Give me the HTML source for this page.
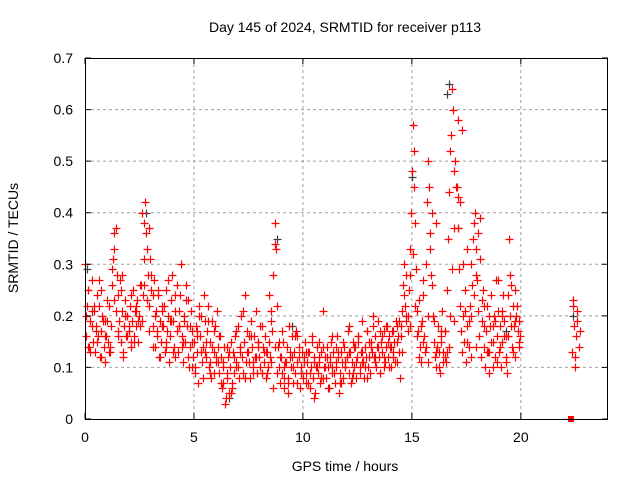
<!DOCTYPE html>
<html><head><meta charset="utf-8">
<style>
html,body{margin:0;padding:0;background:#fff;}
svg{display:block;font-family:"Liberation Sans",sans-serif;}
</style></head>
<body>
<svg id="chart" width="640" height="480" viewBox="0 0 640 480" xmlns="http://www.w3.org/2000/svg">
<rect width="640" height="480" fill="#fff"/>
<text x="345" y="32" font-size="14" text-anchor="middle">Day 145 of 2024, SRMTID for receiver p113</text>
<text x="345" y="471" font-size="14" text-anchor="middle">GPS time / hours</text>
<text transform="translate(18,238) rotate(-90)" font-size="14" text-anchor="middle">SRMTID / TECUs</text>
<g id="grid"></g>
<g id="marks"></g>
<g id="axes"></g>
</svg>
<script>
const xTicks=[0,5,10,15,20];
const yTicks=[0,0.1,0.2,0.3,0.4,0.5,0.6,0.7];
const yTickLabels=["0","0.1","0.2","0.3","0.4","0.5","0.6","0.7"];
const hoursA=[0.0,0.05,0.1,0.15,0.2,0.25,0.3,0.35,0.4,0.45,0.5,0.55,0.6,0.65,0.7,0.75,0.8,0.85,0.9,0.95,1.0,1.05,1.1,1.15,1.2,1.25,1.3,1.35,1.4,1.45,1.5,1.55,1.6,1.65,1.7,1.75,1.8,1.85,1.9,1.95];
const srmtidA0=[.30,.16,.22,.25,.14,.19,.27,.15,.21,.13,.18,.24,.16,.22,.12,.17,.20,.14,.11,.16,.19,.15,.22,.13,.18,.26,.31,.36,.37,.28,.24,.19,.27,.15,.21,.12,.18,.23,.16,.20];
const srmtidA=[
.17,.22,.14,.19,.25,.16,.21,.18,.23,.15,.20,.26,.19,.24,.38,.42,.36,.33,.28,.22,.31,.25,.18,.27,.14,.21,.16,.24,.12,.19,.15,.22,.18,.13,.25,.17,.20,.11,.16,.23,.28,.19,.14,.21,.26,.13,.18,.24,.30,.16,.11,.20,.15,.23,.18,.10,.14,.21,.17,.12,
.15,.09,.18,.13,.07,.20,.16,.11,.14,.24,.19,.12,.17,.22,.10,.15,.08,.19,.13,.18,.11,.21,.14,.09,.16,.12,.06,.10,.14,.04,.08,.12,.05,.10,.15,.07,.13,.09,.16,.11,.18,.08,.14,.20,.12,.09,.15,.24,.11,.17,.13,.08,.19,.14,.10,.16,.12,.21,.09,.15,
.12,.18,.09,.14,.11,.16,.08,.13,.10,.15,.12,.21,.17,.28,.38,.33,.22,.14,.10,.07,.12,.09,.15,.06,.11,.14,.08,.18,.12,.10,.16,.07,.13,.09,.17,.11,.14,.06,.10,.13,.08,.12,.15,.09,.11,.07,.13,.10,.16,.08,.12,.05,.10,.14,.09,.11,.07,.13,.21,.10,
.12,.08,.14,.10,.06,.11,.15,.09,.13,.07,.10,.16,.12,.05,.09,.13,.11,.08,.14,.10,.12,.17,.09,.13,.07,.11,.15,.10,.14,.08,.12,.16,.10,.13,.19,.11,.08,.14,.12,.17,.10,.15,.09,.13,.18,.12,.16,.10,.14,.19,.12,.09,.15,.13,.17,.11,.14,.18,.12,.16,
.14,.10,.17,.12,.15,.19,.11,.16,.13,.08,.18,.21,.26,.30,.22,.19,.17,.25,.33,.40,.48,.57,.52,.38,.29,.21,.17,.14,.11,.19,.24,.16,.13,.30,.42,.50,.45,.36,.28,.20,.15,.12,.10,.14,.18,.13,.09,.16,.21,.13,.17,.11,.25,.35,.44,.52,.55,.64,.60,.48,
.50,.45,.37,.29,.22,.17,.13,.20,.15,.25,.11,.18,.14,.22,.30,.26,.35,.38,.40,.33,.27,.21,.16,.12,.19,.25,.14,.10,.17,.22,.13,.09,.18,.24,.15,.20,.12,.27,.16,.21,.13,.18,.10,.15,.24,.19,.12,.09,.16,.35,.20,.26,.14,.22,.18,.25,.20,.17,.14,.16];
const hoursA2Start=2.0, hoursA2Step=0.05;
const srmtidB=[
.20,.25,.13,.18,.22,.15,.27,.12,.19,.16,.23,.14,.29,.33,.21,.17,.25,.13,.20,.16,.18,.24,.15,.21,.19,.26,.40,.31,.23,.17,.28,.14,.20,.25,.12,.18,.22,.15,.27,.19,.13,.24,.17,.21,.14,.19,.26,.12,.18,.15,
.10,.17,.22,.13,.08,.15,.19,.11,.14,.09,.12,.16,.07,.11,.03,.09,.13,.06,.12,.17,.10,.14,.21,.08,.13,.11,.16,.09,.12,.15,.10,.18,.13,.09,.24,.11,.06,.14,.09,.12,.17,.08,.11,.05,.13,.10,.16,.07,.12,.09,
.11,.07,.13,.09,.15,.04,.10,.12,.08,.14,.10,.06,.12,.16,.09,.11,.13,.07,.15,.10,.12,.18,.08,.14,.11,.16,.09,.13,.10,.17,.12,.15,.20,.11,.14,.09,.16,.12,.18,.10,.14,.17,.11,.15,.19,.13,.24,.28,.20,.18,
.32,.22,.16,.12,.18,.27,.14,.20,.33,.40,.19,.13,.10,.15,.11,.17,.13,.20,.29,.37,.45,.58,.42,.30,.21,.15,.19,.12,.24,.28,.36,.31,.23,.18,.13,.20,.15,.10,.19,.27,.14,.21,.16,.11,.24,.18,.13,.19,.22,.15];
const hoursBStart=0.03, hoursBStep=0.1;
const srmtidC=[
.14,.21,.17,.25,.19,.13,.23,.16,.28,.20,
.15,.22,.18,.26,.37,.24,.17,.21,.14,.19,
.12,.18,.15,.23,.10,.16,.20,.13,.09,.17,
.11,.07,.14,.05,.10,.13,.08,.16,.11,.14,
.09,.13,.19,.34,.15,.10,.07,.12,.16,.09,
.13,.06,.11,.15,.08,.12,.10,.14,.07,.11,
.13,.09,.15,.11,.08,.14,.12,.17,.10,.15,
.13,.18,.16,.20,.28,.45,.23,.15,.11,.26,
.38,.17,.12,.14,.19,.43,.56,.33,.20,.14,
.39,.22,.13,.18,.11,.20,.16,.28,.12,.19];
const hoursCStart=0.12, hoursCStep=0.2;
const lateHours=[22.35,22.4,22.45,22.5,22.55,22.6,22.65,22.7,22.4,22.5,22.6];
const lateSrmtid=[.13,.22,.18,.10,.16,.21,.14,.17,.23,.12,.19];
const grayHours=[0.1,2.8,8.8,15.0,16.6,16.7,17.1,19.3,22.4,6.6,9.5];
const graySrmtid=[.29,.40,.35,.47,.63,.65,.37,.17,.20,.04,.18];
const zeroHours=[22.3];
const zeroSrmtid=[0];

const L=85,R=608,T=58,B=419,XMAX=24,YMAX=0.7;
function xs(h){return L+h/XMAX*(R-L);}
function ys(v){return B-v/YMAX*(B-T);}
const NS="http://www.w3.org/2000/svg";
const grid=document.getElementById('grid'),marks=document.getElementById('marks'),axes=document.getElementById('axes');
function el(tag,attrs,parent){const e=document.createElementNS(NS,tag);for(const k in attrs)e.setAttribute(k,attrs[k]);parent.appendChild(e);return e;}

xTicks.forEach(t=>{const x=xs(t);
 if(t>0){const g=el('line',{x1:x,x2:x,y1:T,y2:B,stroke:'#a0a0a0','stroke-dasharray':'3,3','stroke-width':1},grid);
 
 }
 const tk=el('path',{d:`M${x},${B}v-6M${x},${T}v6`,stroke:'#000','stroke-width':1},axes);
 
 
 const lb=el('text',{x:x,y:B+23,'font-size':14,'text-anchor':'middle'},axes);lb.textContent=String(t);
 
 
});
yTicks.forEach((t,i)=>{const y=ys(t);
 if(t>0&&t<YMAX){const g=el('line',{x1:L,x2:R,y1:y,y2:y,stroke:'#a0a0a0','stroke-dasharray':'3,3','stroke-width':1},grid);
 
 }
 const tk=el('path',{d:`M${L},${y}h6M${R},${y}h-6`,stroke:'#000','stroke-width':1},axes);
 
 
 const lb=el('text',{x:L-12,y:y+5,'font-size':14,'text-anchor':'end'},axes);lb.textContent=yTickLabels[i];
 
 
});
const border=el('rect',{x:L+0.5,y:T+0.5,width:R-L-1,height:B-T,fill:'none',stroke:'#000','stroke-width':1},axes);



function plus(h,v,color){const x=Math.round(xs(h))+0.5,y=Math.round(ys(v))+0.5;
 const p=el('path',{d:`M${x-4},${y}h8M${x},${y-4}v8`,stroke:color,'stroke-width':1.2},marks);
 
 }

grayHours.forEach((h,i)=>plus(h,graySrmtid[i],'#404040'));
hoursA.forEach((h,i)=>plus(h,srmtidA0[i],'#ff0000'));
srmtidA.forEach((v,i)=>plus(hoursA2Start+i*hoursA2Step,v,'#ff0000'));
srmtidB.forEach((v,i)=>plus(hoursBStart+i*hoursBStep,v,'#ff0000'));
srmtidC.forEach((v,i)=>plus(hoursCStart+i*hoursCStep,v,'#ff0000'));
lateHours.forEach((h,i)=>plus(h,lateSrmtid[i],'#ff0000'));
zeroHours.forEach((h,i)=>{const x=xs(h),y=ys(zeroSrmtid[i]);
 const r=el('rect',{x:x-3,y:y-3,width:6,height:6,fill:'#ff0000'},marks);
 
 });
</script>
</body></html>
